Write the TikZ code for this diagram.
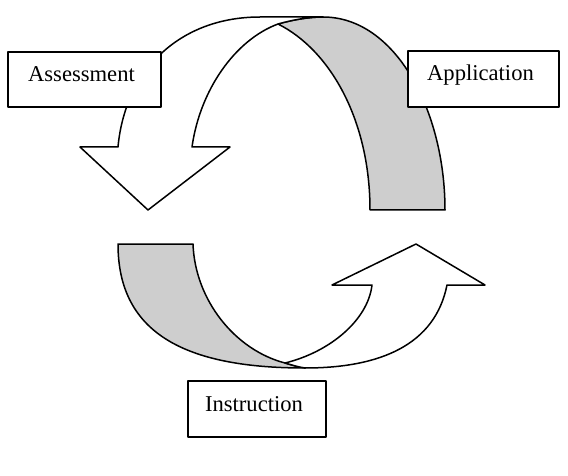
\documentclass[tikz,border=0pt]{standalone}
\usepackage{fontspec}
\setmainfont{Liberation Serif}
\definecolor{ribgray}{RGB}{206,206,206}
\begin{document}
\begin{tikzpicture}[x=0.5pt,y=-0.5pt,line join=round]
\tikzset{
  ribbon/.style={draw=black,line width=0.75pt},
  front/.style={ribbon,fill=white},
  back/.style={ribbon,fill=ribgray},
  labelbox/.style={draw=black,line width=1pt,fill=white,inner sep=0pt,
    text height=8pt,text depth=6pt,font=\fontsize{11.3}{14}\selectfont}
}
\useasboundingbox (0,0) rectangle (568,476);

% upper ribbon: back face (grey)
\draw[back] (278,24) .. controls (292,20) and (308,17) .. (323,17)
  .. controls (395,17) and (445,110) .. (445,210) -- (370,210)
  .. controls (370,120) and (330,50) .. cycle;
% upper ribbon: front face with arrow head
\draw[front] (323,17) -- (260,17) .. controls (180,17) and (125,70) .. (118,147)
  -- (80,147) -- (148,210) -- (230,147) -- (192,147)
  .. controls (200,90) and (235,40) .. (278,24)
  .. controls (292,20) and (308,17) .. cycle;

% lower ribbon: back face (grey)
\draw[back] (118,244) -- (193,244) .. controls (195,300) and (235,350) .. (285,363)
  .. controls (292,365) and (298,367) .. (305,368)
  .. controls (180,368) and (118,330) .. cycle;
% lower ribbon: front face with arrow head
\draw[front] (285,363) .. controls (330,352) and (368,320) .. (372,285)
  -- (332,285) -- (416,244) -- (485,285) -- (447,285)
  .. controls (435,345) and (380,368) .. (305,368)
  .. controls (298,367) and (292,365) .. cycle;

% labels
\node[labelbox,minimum width=76.5pt,minimum height=27.5pt] (assess) at (84.5,79.5) {Assessment\hspace*{3pt}};
\node[labelbox,minimum width=75.5pt,minimum height=28pt] (appl) at (483.5,79) {Application\hspace*{3pt}};
\node[labelbox,minimum width=69pt,minimum height=28pt] (instr) at (257,409) {Instruction\hspace*{3pt}};
\end{tikzpicture}
\end{document}
